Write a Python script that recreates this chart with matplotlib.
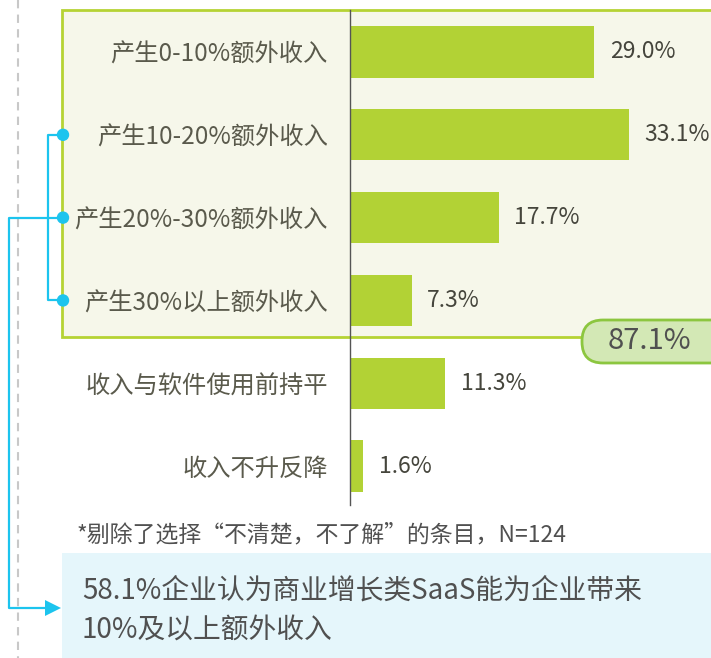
import matplotlib
matplotlib.use('Agg')
import matplotlib.pyplot as plt
from matplotlib.patches import Rectangle, FancyBboxPatch, Circle

plt.rcParams['font.family'] = ['Noto Sans CJK SC', 'DejaVu Sans']

categories = ['产生0-10%额外收入', '产生10-20%额外收入', '产生20%-30%额外收入',
              '产生30%以上额外收入', '收入与软件使用前持平', '收入不升反降']
values = [29.0, 33.1, 17.7, 7.3, 11.3, 1.6]
total_label = '87.1%'
footnote = '*剔除了选择“不清楚，不了解”的条目，N=124'
summary = '58.1%企业认为商业增长类SaaS能为企业带来\n10%及以上额外收入'

bar_color = '#B2D235'
cyan = '#1CC4EE'
W, H = 711, 658

fig = plt.figure(figsize=(W / 100, H / 100), dpi=100)

# background layer in pixel coordinates
bg = fig.add_axes([0, 0, 1, 1])
bg.set_xlim(0, W)
bg.set_ylim(H, 0)
bg.axis('off')

# bar axes
x0, x1, y0, y1 = 350, W, 10, 505
ax = fig.add_axes([x0 / W, 1 - y1 / H, (x1 - x0) / W, (y1 - y0) / H])
ax.patch.set_alpha(0)
ax.set_zorder(2)

ypos = list(range(len(values)))
ax.barh(ypos, values, height=0.62, color=bar_color)
ax.set_xlim(0, (x1 - x0) / 8.43)
ax.set_ylim(5.47, -0.507)
for s in ['top', 'right', 'bottom']:
    ax.spines[s].set_visible(False)
ax.spines['left'].set_color('#555555')
ax.spines['left'].set_linewidth(1)
ax.set_xticks([])
ax.set_yticks(ypos)
ax.set_yticklabels(categories, fontsize=17.5, color='#5A5A4C')
ax.tick_params(axis='y', length=0, pad=16)

for y, v in zip(ypos, values):
    ax.annotate(f'{v:.1f}%', (v, y), xytext=(11, 0), textcoords='offset points',
                va='center', ha='left', fontsize=16.5, color='#45453C')

# pixel y of bar centres
def bar_px(i):
    return H - ax.transData.transform((0, i))[1]

# gray dashed guide
bg.plot([18, 18], [0, H], color='#C8C8C8', lw=1.5, ls=(0, (4, 3)))

# green highlight box
bg.add_patch(Rectangle((62, 10), 700, 327, facecolor='#F6F7EA',
                       edgecolor='#B5D334', lw=2, zorder=0))

# pill with total
bg.add_patch(FancyBboxPatch((582, 320), 170, 43,
                            boxstyle='round,pad=0,rounding_size=21',
                            facecolor='#D3E8B5', edgecolor='#8CC63F', lw=2, zorder=3))
bg.text(649, 341, total_label, ha='center', va='center', fontsize=21,
        color='#505050', zorder=4)

# cyan bracket
yb = [bar_px(i) for i in (1, 2, 3)]
bg.plot([63, 48, 48, 63], [yb[0], yb[0], yb[2], yb[2]], color=cyan, lw=1.6, zorder=3)
bg.plot([63, 9, 9, 50], [yb[1], yb[1], 608, 608], color=cyan, lw=1.6, zorder=3)
for y in yb:
    bg.add_patch(Circle((63, y), 5.5, color=cyan, zorder=4))
bg.fill([45, 61, 45], [600, 608, 616], color=cyan, zorder=4, lw=0)

# footnote
bg.text(77, 535, footnote, ha='left', va='center', fontsize=16.5, color='#505050')

# summary box
bg.add_patch(Rectangle((62, 553), 700, 110, facecolor='#E5F6FB', edgecolor='none', zorder=1))
bg.text(82, 610, summary, ha='left', va='center', fontsize=20, color='#505050',
        linespacing=1.38, zorder=2)

fig.savefig('out.png', dpi=100)
